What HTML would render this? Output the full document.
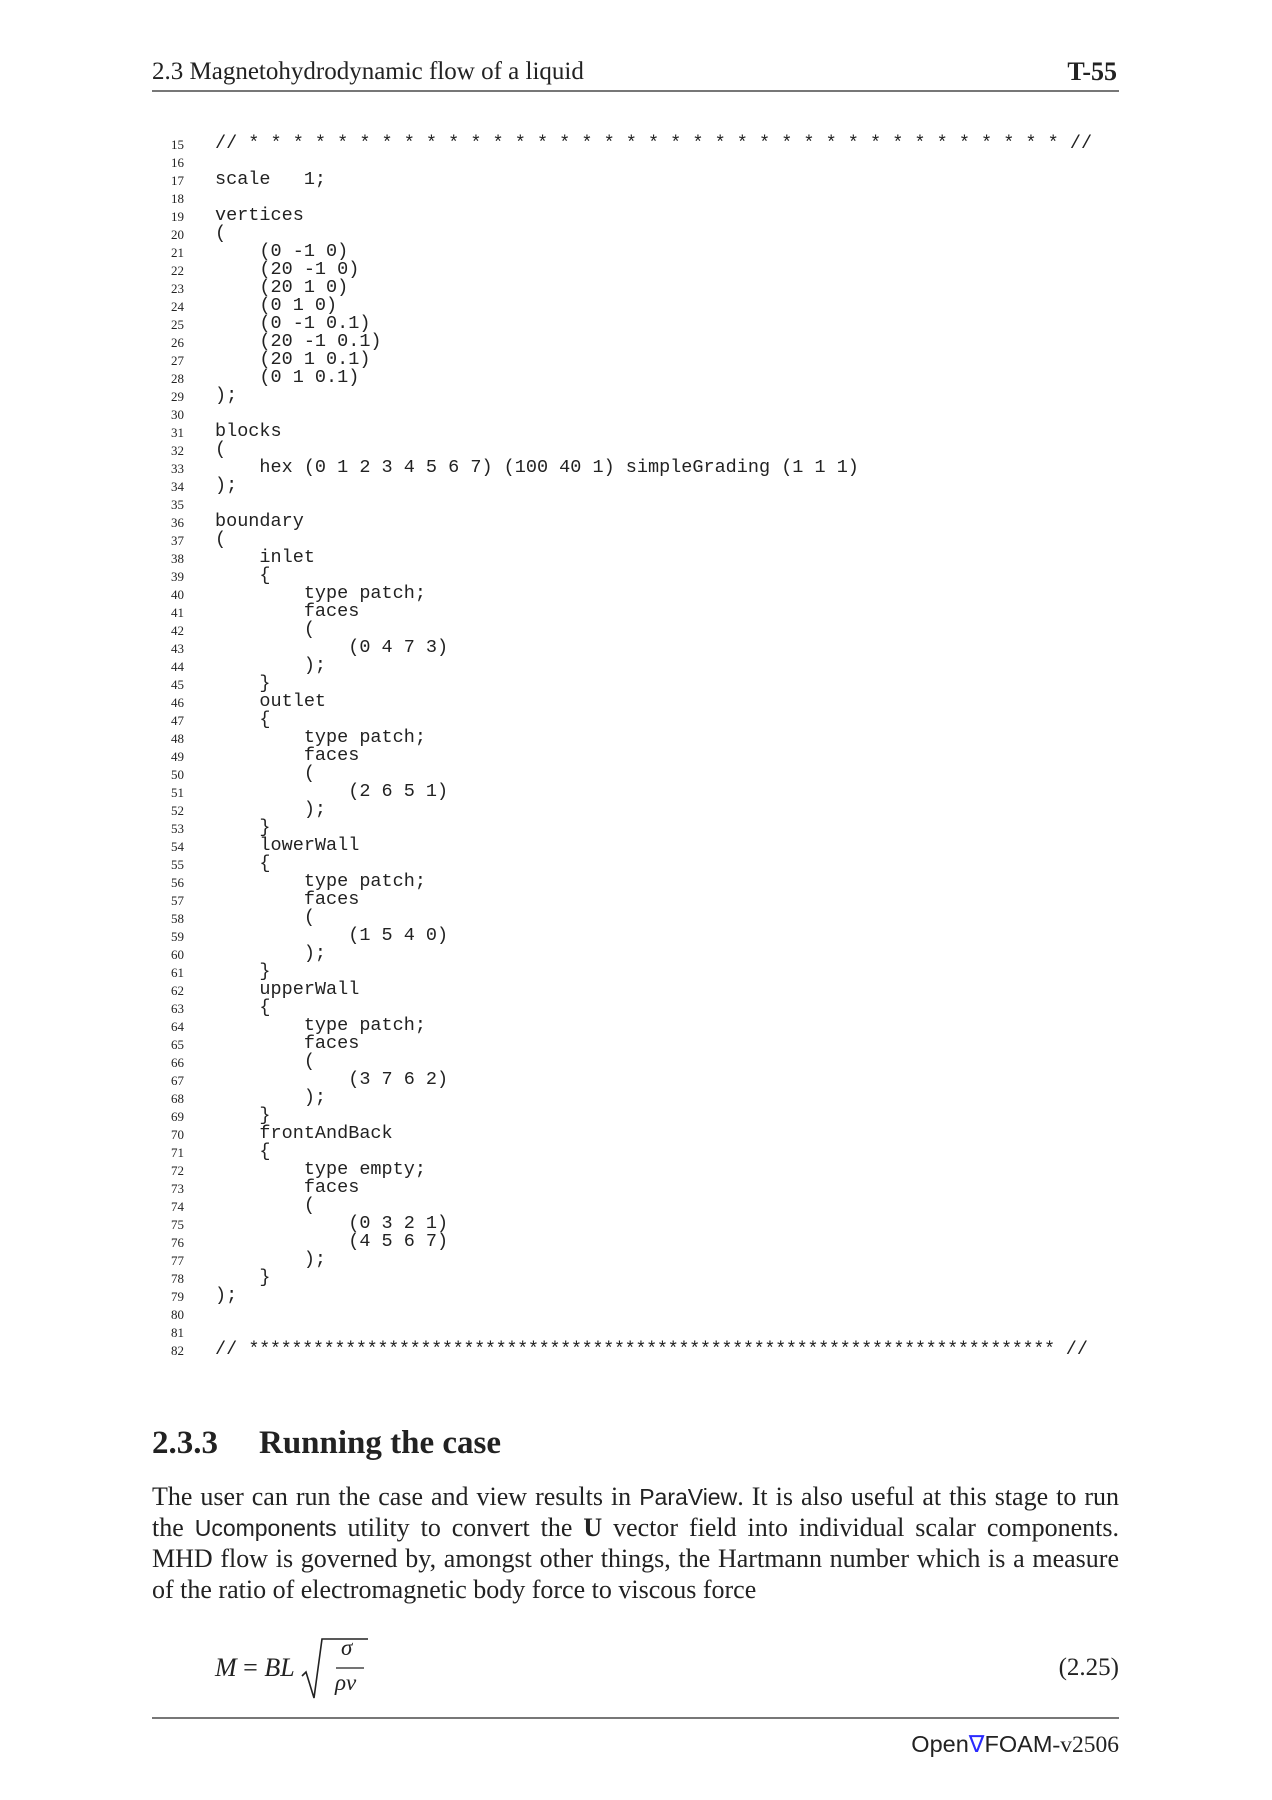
<!DOCTYPE html>
<html><head><meta charset="utf-8">
<style>
body{margin:0;width:1272px;height:1800px;background:#fff;position:relative;font-family:"Liberation Serif",serif;color:#222;overflow:hidden}
.a{position:absolute;white-space:pre}
.ln{position:absolute;left:160px;width:24px;text-align:right;font-size:13px;font-family:"Liberation Serif",serif}
.cd{position:absolute;left:215px;font-family:"Liberation Mono",monospace;font-size:18.5px;white-space:pre;line-height:18px}
.rule{position:absolute;left:152px;width:967px;height:2px;background:#777}
.p{position:absolute;left:152px;width:967px;font-size:26px;line-height:31px;text-align:justify;text-align-last:justify;white-space:nowrap}
.sf{font-family:"Liberation Sans",sans-serif;font-size:23px}
</style></head><body>
<div class="a" style="left:152px;top:58px;font-size:25px">2.3 Magnetohydrodynamic flow of a liquid</div>
<div class="a" style="right:155px;top:57px;font-size:26px;font-weight:bold">T-55</div>
<div class="rule" style="top:90px"></div>

<div id="code"></div>
<script>
var lines=[
"// * * * * * * * * * * * * * * * * * * * * * * * * * * * * * * * * * * * * * //",
"","scale   1;","","vertices","(",
"    (0 -1 0)","    (20 -1 0)","    (20 1 0)","    (0 1 0)","    (0 -1 0.1)","    (20 -1 0.1)","    (20 1 0.1)","    (0 1 0.1)",
");","","blocks","(","    hex (0 1 2 3 4 5 6 7) (100 40 1) simpleGrading (1 1 1)",");","","boundary","(",
"    inlet","    {","        type patch;","        faces","        (","            (0 4 7 3)","        );","    }",
"    outlet","    {","        type patch;","        faces","        (","            (2 6 5 1)","        );","    }",
"    lowerWall","    {","        type patch;","        faces","        (","            (1 5 4 0)","        );","    }",
"    upperWall","    {","        type patch;","        faces","        (","            (3 7 6 2)","        );","    }",
"    frontAndBack","    {","        type empty;","        faces","        (","            (0 3 2 1)","            (4 5 6 7)","        );","    }",
");","","","BOTTOM"];
var h="";
for(var i=0;i<lines.length;i++){
 var n=15+i, c=144.5+i*18.0;
 h+='<div class="ln" style="top:'+(c-8)+'px">'+n+'</div>';
 var t=lines[i];
 if(t=="BOTTOM"){
   t='// <span style="display:inline-block;letter-spacing:-0.35px">'+Array(76).join('*')+'</span> //';
 }
 h+='<div class="cd" style="top:'+(c-10)+'px">'+t+'</div>';
}
document.getElementById('code').innerHTML=h;
</script>

<div class="a" style="left:152px;top:1425px;font-size:33px;font-weight:bold">2.3.3</div>
<div class="a" style="left:259px;top:1425px;font-size:33px;font-weight:bold">Running the case</div>

<div class="p" style="top:1481px">The user can run the case and view results in <span class="sf">ParaView</span>. It is also useful at this stage to run</div>
<div class="p" style="top:1512px">the <span class="sf">Ucomponents</span> utility to convert the <b>U</b> vector field into individual scalar components.</div>
<div class="p" style="top:1543px">MHD flow is governed by, amongst other things, the Hartmann number which is a measure</div>
<div class="p" style="top:1574px;text-align-last:left">of the ratio of electromagnetic body force to viscous force</div>

<div class="a" style="left:215px;top:1653px;font-size:26px;font-style:italic">M <span style="font-style:normal">=</span> BL</div>
<svg class="a" style="left:300px;top:1636px" width="70" height="66">
<polyline points="2,40 6,36 14,62 22,3 68,3" fill="none" stroke="#222" stroke-width="1.6"/>
<line x1="36" y1="32" x2="64" y2="32" stroke="#222" stroke-width="1.3"/>
</svg>
<div class="a" style="left:341px;top:1635px;font-size:23px;font-style:italic">σ</div>
<div class="a" style="left:335px;top:1670px;font-size:23px;font-style:italic">ρν</div>
<div class="a" style="right:153px;top:1654px;font-size:25px">(2.25)</div>

<div class="rule" style="top:1717px"></div>
<div class="a" style="right:153px;top:1730px;font-size:23.5px;font-family:'Liberation Sans',sans-serif">Open<span style="color:#2a2aff">∇</span>FOAM<span style="font-family:'Liberation Serif',serif">-v2506</span></div>
</body></html>
